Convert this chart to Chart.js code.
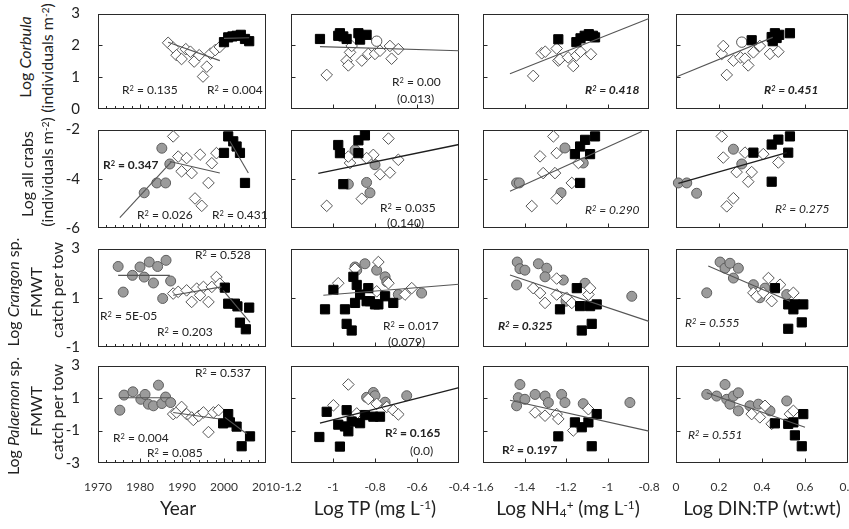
<!DOCTYPE html>
<html>
<head>
<meta charset="utf-8">
<script src="https://cdn.jsdelivr.net/npm/chart.js@4"></script>
<style>
  body { margin: 0; width: 849px; height: 529px; overflow: hidden; background: #fff; position: relative;
         font-family: Lato, "Open Sans", sans-serif; color: #222; }
  canvas { position: absolute; }
  .r2 { position: absolute; white-space: nowrap; font-size: 12px; line-height: 12px; transform: translateY(-50%); color: #222; }
  .r2 sup, .yt sup, .xt sup { font-size: 0.62em; vertical-align: 0.45em; line-height: 0; }
  .xt sub { font-size: 0.62em; vertical-align: -0.2em; line-height: 0; }
  .yt { position: absolute; white-space: nowrap; font-size: 16px; line-height: 1; transform: translate(-50%, -50%) rotate(-90deg); }
  .xt { position: absolute; white-space: nowrap; font-size: 19px; line-height: 1; transform: translate(-50%, -50%); }
</style>
</head>
<body>
<script>
"use strict";

// ---- axis ticks ----
const yearTicks = [1970, 1980, 1990, 2000, 2010];
const yearMinor = [1972, 1974, 1976, 1978, 1982, 1984, 1986, 1988, 1992, 1994, 1996, 1998, 2002, 2004, 2006, 2008];
const tpTicks = [-1.2, -1, -0.8, -0.6, -0.4];
const nhTicks = [-1.6, -1.4, -1.2, -1, -0.8];
const dinTicks = [0, 0.2, 0.4, 0.6, 0.8];
const corbTicks = [0, 1, 2, 3];
const crabTicks = [-6, -4, -2];
const crangTicks = [-1, 1, 3];
const palTicks = [-3, -1, 1, 3];

// ---- Corbula ----
const yrCorbDia = [[1986.7, 2.08], [1987.9, 1.93], [1988.7, 1.69], [1989.9, 1.57], [1990.9, 1.88], [1992, 1.8], [1992.9, 1.49],
  [1994.1, 1.69], [1995, 1.02], [1995.9, 1.33], [1996.8, 1.74], [1997.9, 1.85], [1999, 1.95]];
const yrCorbSq = [[2000, 2.1], [2001, 2.25], [2002, 2.28], [2003, 2.3], [2004, 2.33], [2005, 2.2], [2006, 2.13]];
const yrCorbFitDia = [[1986.7, 2.1], [1999, 1.52]];
const yrCorbFitSq = [[2000, 2.22], [2006, 2.24]];

const tpCorbSq = [[-1.062, 2.2], [-0.975, 2.3], [-0.967, 2.38], [-0.951, 2.28], [-0.935, 2.2], [-0.879, 2.38], [-0.871, 2.18], [-0.84, 2.33]];
const tpCorbDia = [[-1.03, 1.07], [-0.935, 1.52], [-0.927, 1.37], [-0.919, 1.78], [-0.911, 1.98], [-0.863, 1.52], [-0.832, 1.73],
  [-0.8, 1.73], [-0.776, 1.83], [-0.729, 1.98], [-0.721, 1.58], [-0.689, 1.88]];
const tpCorbOpen = [[-0.792, 2.13]];
const tpCorbFit = [[-1.062, 1.96], [-0.4, 1.83]];

const nhCorbDia = [[-1.358, 1.04], [-1.317, 1.75], [-1.3, 1.8], [-1.245, 1.9], [-1.237, 1.52], [-1.23, 1.56], [-1.19, 1.62],
  [-1.165, 1.35], [-1.15, 1.68], [-1.13, 1.8], [-1.08, 1.72]];
const nhCorbSq = [[-1.237, 2.19], [-1.15, 2.1], [-1.13, 2.22], [-1.11, 2.3], [-1.09, 2.35], [-1.07, 2.3], [-1.06, 2.25]];
const nhCorbFit = [[-1.47, 1.11], [-0.8, 2.84]];

const dnCorbDia = [[0.213, 1.73], [0.22, 1.98], [0.236, 1.07], [0.267, 1.52], [0.3, 1.62], [0.321, 1.58], [0.336, 1.37],
  [0.36, 1.78], [0.39, 1.98], [0.437, 1.73], [0.476, 1.8]];
const dnCorbOpen = [[0.306, 2.1]];
const dnCorbSq = [[0.352, 2.16], [0.445, 2.26], [0.45, 2.13], [0.46, 2.38], [0.468, 2.23], [0.48, 2.33], [0.53, 2.38]];
const dnCorbFit = [[0.006, 1.02], [0.45, 2.25]];

// ---- all crabs ----
const yrCrabCirc = [[1981, -4.57], [1984, -4.17], [1985.2, -2.76], [1986.1, -4.17], [1987.1, -3.4]];
const yrCrabDia = [[1987.9, -2.28], [1989.1, -3.1], [1989.9, -3.7], [1991.1, -3.16], [1992.3, -3.77], [1993.1, -4.8], [1994.3, -3.02],
  [1994.7, -5.1], [1996.3, -4.17], [1997.1, -3.37], [1998.2, -2.96]];
const yrCrabSq = [[2000, -2.95], [2001, -2.28], [2002.2, -2.48], [2003, -2.69], [2003.8, -2.95], [2005, -4.17]];
const yrCrabFitCirc = [[1975.2, -5.58], [1987.5, -3.3]];
const yrCrabFitDia = [[1987.1, -3.3], [1999, -3.77]];
const yrCrabFitSq = [[2001.4, -2.48], [2005.8, -3.77]];

const tpCrabSq = [[-0.975, -2.63], [-0.967, -2.96], [-0.879, -2.44], [-0.848, -2.24], [-0.879, -2.96], [-0.951, -4.22]];
const tpCrabCirc = [[-0.895, -2.83], [-0.8, -3.43], [-0.84, -4.15], [-0.824, -4.57], [-0.927, -4.22]];
const tpCrabDia = [[-0.736, -2.37], [-0.919, -3.36], [-0.927, -3.1], [-0.808, -3.03], [-0.84, -3.16], [-0.689, -3.23], [-0.776, -3.82],
  [-0.729, -3.75], [-0.863, -4.81], [-1.03, -5.1]];
const tpCrabFit = [[-1.07, -3.78], [-0.4, -2.61]];

const nhCrabCirc = [[-1.438, -4.17], [-1.425, -4.17], [-1.205, -2.75], [-1.224, -4.57], [-1.117, -3.36]];
const nhCrabDia = [[-1.325, -3.09], [-1.245, -2.96], [-1.261, -2.28], [-1.31, -3.77], [-1.253, -3.77], [-1.365, -5.11], [-1.245, -4.8],
  [-1.14, -3.36], [-1.172, -4.17]];
const nhCrabSq = [[-1.06, -2.28], [-1.108, -2.42], [-1.132, -2.69], [-1.157, -3.0], [-1.084, -3.0], [-1.132, -4.17]];
const nhCrabFit = [[-1.47, -4.51], [-0.835, -2.08]];

const dnCrabCirc = [[0.011, -4.17], [0.05, -4.17], [0.096, -4.59], [0.267, -2.8], [0.306, -3.4]];
const dnCrabDia = [[0.213, -2.28], [0.22, -3.14], [0.321, -2.94], [0.282, -3.73], [0.352, -3.73], [0.336, -4.12], [0.236, -5.12],
  [0.267, -4.79], [0.406, -3.0], [0.476, -3.34]];
const dnCrabSq = [[0.36, -2.94], [0.445, -2.61], [0.476, -2.41], [0.53, -2.28], [0.522, -2.94], [0.445, -4.12]];
const dnCrabFit = [[0.011, -4.19], [0.515, -2.94]];

// ---- Crangon ----
const yrCrangCirc = [[1974.8, 2.27], [1976, 1.23], [1978.2, 1.91], [1980, 2.25], [1981, 1.84], [1982.2, 2.45], [1983.2, 1.6],
  [1984.2, 2.27], [1985.4, 0.97], [1986.2, 2.52], [1987.3, 1.68]];
const yrCrangDia = [[1987.9, 1.17], [1989.1, 1.24], [1991.1, 1.3], [1992.3, 0.83], [1993.5, 1.37], [1994.3, 1.1], [1995.1, 1.44],
  [1996.3, 0.83], [1997.1, 1.44], [1998.2, 1.84], [1999, 1.57]];
const yrCrangSq = [[2000.2, 1.41], [2001, 0.76], [2002.6, 0.76], [2003.2, 0.65], [2003.8, -0.01], [2005.2, -0.28], [2006, 0.6]];
const yrCrangFitCirc = [[1974.8, 1.91], [1987.1, 1.91]];
const yrCrangFitDia = [[1987.9, 1.1], [1999.4, 1.44]];
const yrCrangFitSq = [[1999.8, 1.3], [2006.2, 0.0]];

const tpCrangCirc = [[-0.895, 2.25], [-0.887, 2.12], [-0.848, 2.38], [-0.792, 2.12], [-0.752, 1.85], [-0.744, 1.65], [-0.689, 1.13], [-0.578, 1.19]];
const tpCrangDia = [[-0.784, 2.45], [-0.895, 2.18], [-0.975, 1.59], [-0.736, 1.59], [-0.625, 1.39], [-0.657, 1.13], [-0.792, 1.26]];
const tpCrangSq = [[-0.998, 1.32], [-1.038, 0.53], [-0.943, 0.53], [-0.903, 1.85], [-0.887, 1.52], [-0.871, 1.13], [-0.895, 0.79],
  [-0.832, 1.39], [-0.824, 0.86], [-0.8, 0.73], [-0.84, 0.86], [-0.752, 1.06], [-0.713, 0.79], [-0.935, -0.06], [-0.911, -0.33], [-0.784, 0.73]];
const tpCrangFit = [[-1.046, 1.1], [-0.4, 1.55]];

const nhCrangCirc = [[-1.435, 2.45], [-1.422, 2.18], [-1.398, 2.12], [-1.438, 1.52], [-1.333, 2.38], [-1.293, 2.2], [-1.301, 1.85],
  [-1.213, 1.72], [-1.2, 0.86], [-1.108, 1.59], [-0.883, 1.06]];
const nhCrangDia = [[-1.358, 1.39], [-1.325, 1.19], [-1.301, 0.79], [-1.245, 1.78], [-1.245, 1.13], [-1.197, 1.0], [-1.172, 0.79],
  [-1.092, 1.13], [-1.084, 1.39]];
const nhCrangSq = [[-1.229, 0.53], [-1.148, 1.39], [-1.132, 0.66], [-1.084, 0.66], [-1.052, 0.73], [-1.124, -0.33], [-1.076, -0.06]];
const nhCrangFit = [[-1.47, 1.92], [-0.8, 0.04]];

const dnCrangCirc = [[0.143, 1.2], [0.205, 2.45], [0.228, 2.2], [0.251, 2.4], [0.29, 2.2], [0.267, 1.8], [0.36, 1.53], [0.39, 1.0],
  [0.414, 1.39], [0.515, 1.13]];
const dnCrangDia = [[0.36, 1.2], [0.375, 1.06], [0.406, 1.2], [0.43, 1.8], [0.445, 0.86], [0.484, 1.53], [0.546, 1.2]];
const dnCrangSq = [[0.46, 1.39], [0.522, 0.73], [0.553, 0.73], [0.592, 0.73], [0.546, 0.53], [0.585, 0.0], [0.522, -0.26]];
const dnCrangFit = [[0.15, 2.29], [0.53, 0.86]];

// ---- Palaemon ----
const yrPalCirc = [[1975.2, 0.25], [1976.2, 1.18], [1978.3, 1.38], [1980.2, 0.92], [1981.2, 1.22], [1982, 0.62], [1983.2, 0.52],
  [1984.4, 1.79], [1985.2, 0.66], [1986.1, 1.06], [1987.3, 0.72]];
const yrPalDia = [[1987.9, 0.01], [1988.7, 0.11], [1989.9, 0.45], [1991.1, 0.01], [1992.3, -0.2], [1992.7, -0.35], [1994, -0.1],
  [1995.1, 0.11], [1996.3, -1.1], [1997.5, 0.11], [1998.7, 0.25]];
const yrPalSq = [[1999.8, -0.56], [2001, 0.01], [2001.4, -0.5], [2003, -0.76], [2004.2, -1.97], [2006.2, -1.36]];
const yrPalFitCirc = [[1975.2, 1.02], [1987.1, 1.02]];
const yrPalFitDia = [[1987.9, 0.11], [1999, -0.29]];
const yrPalFitSq = [[2000.2, -0.19], [2005.4, -1.2]];

const tpPalSq = [[-1.065, -1.4], [-1.03, 0.15], [-0.967, -1.99], [-0.975, -0.64], [-0.935, 0.25], [-0.927, -1.05], [-0.943, -0.75],
  [-0.911, -0.45], [-0.871, -0.55], [-0.848, -0.05], [-0.808, -0.15], [-0.776, -0.15]];
const tpPalDia = [[-0.927, 1.83], [-0.998, 0.55], [-0.887, 0.05], [-0.832, 0.94], [-0.792, 0.64], [-0.744, 0.45], [-0.713, 0.25], [-0.689, -0.01]];
const tpPalCirc = [[-0.84, 1.04], [-0.808, 1.34], [-0.8, 1.14], [-0.752, 0.74], [-0.649, 1.14]];
const tpPalFit = [[-1.062, -0.55], [-0.4, 1.64]];

const nhPalCirc = [[-1.422, 1.83], [-1.43, 1.02], [-1.438, 0.52], [-1.398, 0.92], [-1.349, 1.22], [-1.301, 1.12], [-1.285, 0.72],
  [-1.221, 1.22], [-1.205, 0.72], [-1.117, 0.65], [-0.892, 0.72]];
const nhPalDia = [[-1.349, 0.11], [-1.301, -0.09], [-1.245, 0.01], [-1.237, -0.29], [-1.165, -1.0], [-1.092, 0.31]];
const nhPalSq = [[-1.237, -1.36], [-1.157, -0.5], [-1.124, -0.8], [-1.092, -0.5], [-1.052, 0.01], [-1.076, -1.97]];
const nhPalFit = [[-1.47, 0.86], [-0.8, -1.04]];

const dnPalCirc = [[0.143, 1.22], [0.189, 1.12], [0.228, 1.83], [0.236, 0.92], [0.251, 0.62], [0.267, 1.12], [0.29, 1.32], [0.29, 0.21],
  [0.344, 0.52], [0.383, 0.62], [0.437, 0.21], [0.515, 0.82]];
const dnPalDia = [[0.352, 0.01], [0.39, -0.19], [0.414, 0.52], [0.445, -0.59], [0.53, 0.01], [0.546, 0.21]];
const dnPalSq = [[0.46, -0.56], [0.522, -0.59], [0.546, -0.5], [0.592, 0.01], [0.553, -1.3], [0.585, -1.97]];
const dnPalFit = [[0.143, 1.32], [0.6, -0.8]];

// ---- grid layout (page px) ----
const colL = [98, 291, 483, 676], colR = [266, 459, 649, 848];
const rowT = [12, 128, 247, 364], rowB = [109, 228, 347, 463];
const PADL = 40, PADR = 18, PADT = 6, PADB = 32;

const xAxes = [
  { ticks: yearTicks, minor: yearMinor },
  { ticks: tpTicks },
  { ticks: nhTicks },
  { ticks: dinTicks },
];
const yAxes = [corbTicks, crabTicks, crangTicks, palTicks];

const panels = [
  { c: 0, r: 0, dia: yrCorbDia, sq: yrCorbSq, fits: [yrCorbFitDia, yrCorbFitSq] },
  { c: 1, r: 0, dia: tpCorbDia, sq: tpCorbSq, open: tpCorbOpen, fits: [tpCorbFit] },
  { c: 2, r: 0, dia: nhCorbDia, sq: nhCorbSq, fits: [nhCorbFit] },
  { c: 3, r: 0, dia: dnCorbDia, sq: dnCorbSq, open: dnCorbOpen, fits: [dnCorbFit] },
  { c: 0, r: 1, circ: yrCrabCirc, dia: yrCrabDia, sq: yrCrabSq, fits: [yrCrabFitCirc, yrCrabFitDia, yrCrabFitSq] },
  { c: 1, r: 1, circ: tpCrabCirc, dia: tpCrabDia, sq: tpCrabSq, fits: [tpCrabFit], dark: true },
  { c: 2, r: 1, circ: nhCrabCirc, dia: nhCrabDia, sq: nhCrabSq, fits: [nhCrabFit] },
  { c: 3, r: 1, circ: dnCrabCirc, dia: dnCrabDia, sq: dnCrabSq, fits: [dnCrabFit], dark: true },
  { c: 0, r: 2, circ: yrCrangCirc, dia: yrCrangDia, sq: yrCrangSq, fits: [yrCrangFitCirc, yrCrangFitDia, yrCrangFitSq] },
  { c: 1, r: 2, circ: tpCrangCirc, dia: tpCrangDia, sq: tpCrangSq, fits: [tpCrangFit] },
  { c: 2, r: 2, circ: nhCrangCirc, dia: nhCrangDia, sq: nhCrangSq, fits: [nhCrangFit] },
  { c: 3, r: 2, circ: dnCrangCirc, dia: dnCrangDia, sq: dnCrangSq, fits: [dnCrangFit] },
  { c: 0, r: 3, circ: yrPalCirc, dia: yrPalDia, sq: yrPalSq, fits: [yrPalFitCirc, yrPalFitDia, yrPalFitSq] },
  { c: 1, r: 3, circ: tpPalCirc, dia: tpPalDia, sq: tpPalSq, fits: [tpPalFit], dark: true },
  { c: 2, r: 3, circ: nhPalCirc, dia: nhPalDia, sq: nhPalSq, fits: [nhPalFit] },
  { c: 3, r: 3, circ: dnPalCirc, dia: dnPalDia, sq: dnPalSq, fits: [dnPalFit] },
];

const xy = (a) => a.map(([x, y]) => ({ x, y }));
const label = (v) => String(v);

// plot frame + inward tick marks, drawn under the markers
const frame = {
  id: "frame",
  beforeDatasetsDraw(chart, args, o) {
    const { ctx, chartArea: a, scales: { x, y } } = chart;
    const L = Math.round(a.left) + 0.5, R = Math.round(a.right) - 0.5;
    const T = Math.round(a.top) + 0.5, B = Math.round(a.bottom) - 0.5;
    ctx.save();
    ctx.strokeStyle = "#2a2a2a";
    ctx.lineWidth = 1;
    ctx.strokeRect(L, T, R - L, B - T);
    ctx.beginPath();
    o.xMajor.slice(1, -1).forEach((v) => {
      const px = Math.round(x.getPixelForValue(v)) + 0.5;
      ctx.moveTo(px, B); ctx.lineTo(px, B - 4);
    });
    (o.xMinor || []).forEach((v) => {
      const px = Math.round(x.getPixelForValue(v)) + 0.5;
      ctx.moveTo(px, B); ctx.lineTo(px, B - 2.5);
    });
    o.yMajor.slice(1, -1).forEach((v) => {
      const py = Math.round(y.getPixelForValue(v)) + 0.5;
      ctx.moveTo(L, py); ctx.lineTo(L + 4, py);
    });
    ctx.stroke();
    ctx.restore();
  },
};

function buildSets(p) {
  const sets = [];
  p.fits.forEach((f) => sets.push({
    data: xy(f), showLine: true, pointRadius: 0, borderWidth: p.dark ? 1.4 : 1.1,
    borderColor: p.dark ? "#1e1e1e" : "#555", clip: false,
  }));
  if (p.sq) sets.push({ data: xy(p.sq), pointStyle: "rect", pointRadius: 6.5, backgroundColor: "#000", borderColor: "#000", borderWidth: 1, clip: false });
  if (p.dia) sets.push({ data: xy(p.dia), pointStyle: "rectRot", pointRadius: 5.8, backgroundColor: "#fff", borderColor: "#555", borderWidth: 1, clip: false });
  if (p.open) sets.push({ data: xy(p.open), pointStyle: "circle", pointRadius: 5.2, backgroundColor: "#fff", borderColor: "#555", borderWidth: 1, clip: false });
  if (p.circ) sets.push({ data: xy(p.circ), pointStyle: "circle", pointRadius: 5, backgroundColor: "#9b9b9b", borderColor: "#5e5e5e", borderWidth: 1, clip: false });
  return sets;
}

panels.forEach((p) => {
  const xa = xAxes[p.c], ya = yAxes[p.r];
  const w = colR[p.c] - colL[p.c] + PADL + PADR;
  const h = rowB[p.r] - rowT[p.r] + PADT + PADB;
  const cv = document.createElement("canvas");
  cv.width = w; cv.height = h;
  cv.style.left = colL[p.c] - PADL + "px";
  cv.style.top = rowT[p.r] - PADT + "px";
  document.body.appendChild(cv);

  new Chart(cv, {
    type: "scatter",
    data: { datasets: buildSets(p) },
    plugins: [frame],
    options: {
      responsive: false,
      animation: false,
      devicePixelRatio: 1,
      events: [],
      layout: { padding: { left: 0, right: PADR, top: PADT, bottom: 0 } },
      plugins: {
        legend: { display: false },
        tooltip: { enabled: false },
        frame: { xMajor: xa.ticks, xMinor: xa.minor, yMajor: ya },
      },
      scales: {
        x: {
          type: "linear", min: xa.ticks[0], max: xa.ticks[xa.ticks.length - 1],
          afterBuildTicks: (s) => { s.ticks = xa.ticks.map((v) => ({ value: v })); },
          afterFit: (s) => { s.height = PADB; s.paddingLeft = 0; s.paddingRight = 0; },
          grid: { display: false }, border: { display: false },
          ticks: { display: p.r === 3, padding: 9, color: "#333", maxRotation: 0, autoSkip: false,
                   font: { family: "Lato", size: 12 }, callback: label },
        },
        y: {
          type: "linear", min: ya[0], max: ya[ya.length - 1],
          afterBuildTicks: (s) => { s.ticks = ya.map((v) => ({ value: v })); },
          afterFit: (s) => { s.width = PADL; s.paddingTop = 0; s.paddingBottom = 0; },
          grid: { display: false }, border: { display: false },
          ticks: { display: p.c === 0, padding: 10, color: "#222", autoSkip: false,
                   font: { family: "Lato", size: 15 }, callback: label },
        },
      },
    },
  });
});

// ---- text: fit statistics, axis titles ----
const R = "R<sup>2</sup> = ";
const notes = [
  [R + "0.135", 122, 90], [R + "0.004", 207, 90],
  [R + "0.00", 392, 82], ["(0.013)", 397, 99],
  [R + "0.418", 585, 90, "bi"], [R + "0.451", 764, 90, "bi"],
  [R + "0.347", 103, 165, "b"], [R + "0.026", 137, 215], [R + "0.431", 212, 215],
  [R + "0.035", 380, 208], ["(0.140)", 387, 223],
  [R + "0.290", 585, 210, "i"], [R + "0.275", 775, 209, "i"],
  [R + "0.528", 195, 255], [R + "5E-05", 100, 316], [R + "0.203", 157, 332],
  [R + "0.017", 383, 326], ["(0.079)", 388, 342],
  [R + "0.325", 498, 326, "bi"], [R + "0.555", 685, 323, "i"],
  [R + "0.537", 195, 373], [R + "0.004", 113, 438], [R + "0.085", 147, 453],
  [R + "0.165", 385, 433, "b"], ["(0.0)", 410, 451],
  [R + "0.197", 502, 450, "b"], [R + "0.551", 688, 435, "i"],
];
notes.forEach(([html, x, y, st]) => {
  const d = document.createElement("div");
  d.className = "r2";
  d.innerHTML = html;
  d.style.left = x + "px";
  d.style.top = y + "px";
  if (st && st.includes("b")) d.style.fontWeight = "bold";
  if (st && st.includes("i")) d.style.fontStyle = "italic";
  document.body.appendChild(d);
});

const yTitles = [
  ["Log <i>Corbula</i>", 25, 57], ["(individuals m<sup>-2</sup>)", 47, 58],
  ["Log all crabs", 27, 174], ["(individuals m<sup>-2</sup>)", 47, 172],
  ["Log <i>Crangon</i> sp.", 13, 292], ["FMWT", 36, 292], ["catch per tow", 57, 290],
  ["Log <i>Palaemon</i> sp.", 13, 416], ["FMWT", 36, 411], ["catch per tow", 57, 412],
];
yTitles.forEach(([html, x, y]) => {
  const d = document.createElement("div");
  d.className = "yt";
  d.innerHTML = html;
  d.style.left = x + "px";
  d.style.top = y + "px";
  document.body.appendChild(d);
});

const xTitles = [
  ["Year", 178, 507],
  ["Log TP (mg L<sup>-1</sup>)", 375, 507],
  ["Log NH<sub>4</sub><sup>+</sup> (mg L<sup>-1</sup>)", 568, 507],
  ["Log DIN:TP (wt:wt)", 762, 507],
];
xTitles.forEach(([html, x, y]) => {
  const d = document.createElement("div");
  d.className = "xt";
  d.innerHTML = html;
  d.style.left = x + "px";
  d.style.top = y + "px";
  document.body.appendChild(d);
});
</script>
</body>
</html>
